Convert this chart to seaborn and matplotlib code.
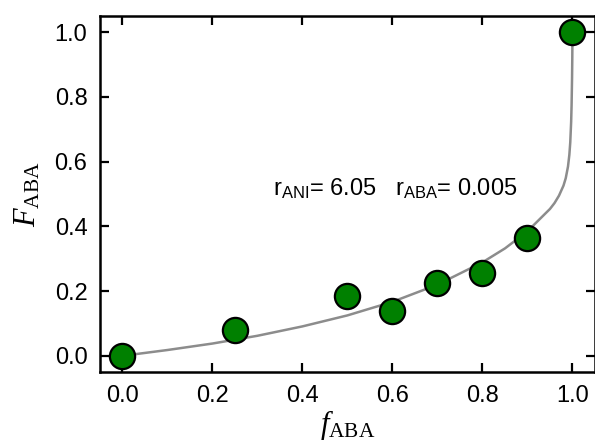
import numpy as np
import pandas as pd
import seaborn as sns
import matplotlib.pyplot as plt

# measured composition points
f_aba = [0.0, 0.25, 0.5, 0.6, 0.7, 0.8, 0.9, 1.0]
F_aba = [0.0, 0.08, 0.185, 0.14, 0.225, 0.255, 0.365, 1.0]

# fitted curve
curve_f = [0.0, 0.05, 0.1, 0.2, 0.3, 0.4, 0.5, 0.6, 0.7, 0.8, 0.85, 0.9,
           0.95, 0.96, 0.97, 0.98, 0.985, 0.99, 0.993, 0.995, 0.997, 0.998,
           0.999, 0.9995, 1.0]
curve_F = [0.0, 0.009, 0.018, 0.038, 0.062, 0.091, 0.125, 0.167, 0.22, 0.289,
           0.332, 0.385, 0.454, 0.472, 0.495, 0.526, 0.549, 0.585, 0.621,
           0.659, 0.723, 0.776, 0.856, 0.916, 1.0]

r_ani = 6.05
r_aba = 0.005

sns.set_theme(style="ticks")
plt.rcParams['font.family'] = ['Liberation Sans', 'DejaVu Sans']
plt.rcParams['mathtext.fontset'] = 'custom'
plt.rcParams['mathtext.rm'] = 'Liberation Serif'
plt.rcParams['mathtext.it'] = 'Liberation Serif:italic'
plt.rcParams['mathtext.sf'] = 'Liberation Sans'

df_pts = pd.DataFrame({'f': f_aba, 'F': F_aba})
df_curve = pd.DataFrame({'f': curve_f, 'F': curve_F})

fig = plt.figure(figsize=(5.95, 4.45), dpi=100)
ax = fig.add_axes([0.168, 0.164, 0.832, 0.8])

sns.lineplot(x='f', y='F', data=df_curve, ax=ax, color='#8c8c8c', linewidth=1.8,
             sort=False, estimator=None, zorder=2)
sns.scatterplot(x='f', y='F', data=df_pts, ax=ax, color='#008000', s=330,
                edgecolor='black', linewidth=1.6, zorder=3, clip_on=False)

ax.set_xlim(-0.05, 1.05)
ax.set_ylim(-0.05, 1.05)
ax.set_xticks([0.0, 0.2, 0.4, 0.6, 0.8, 1.0])
ax.set_yticks([0.0, 0.2, 0.4, 0.6, 0.8, 1.0])
ax.set_xticklabels(['0.0', '0.2', '0.4', '0.6', '0.8', '1.0'])
ax.set_yticklabels(['0.0', '0.2', '0.4', '0.6', '0.8', '1.0'])

ax.tick_params(direction='in', top=True, right=True, length=6.5, width=1.6,
               labelsize=17, pad=9, colors='black')
for sp in ax.spines.values():
    sp.set_visible(True)
    sp.set_linewidth(1.8)
    sp.set_color('black')

ax.set_xlabel(r'$f_{\mathrm{ABA}}$', fontsize=22, labelpad=1, color='black')
ax.set_ylabel(r'$F_{\mathrm{ABA}}$', fontsize=22, labelpad=9, color='black')

ax.text(0.335, 0.495,
        r'r$_{\mathsf{ANI}}$= %.2f   r$_{\mathsf{ABA}}$= %.3f' % (r_ani, r_aba),
        fontsize=17, va='baseline', ha='left', color='black')

fig.savefig('out.png', dpi=100, facecolor='white')
